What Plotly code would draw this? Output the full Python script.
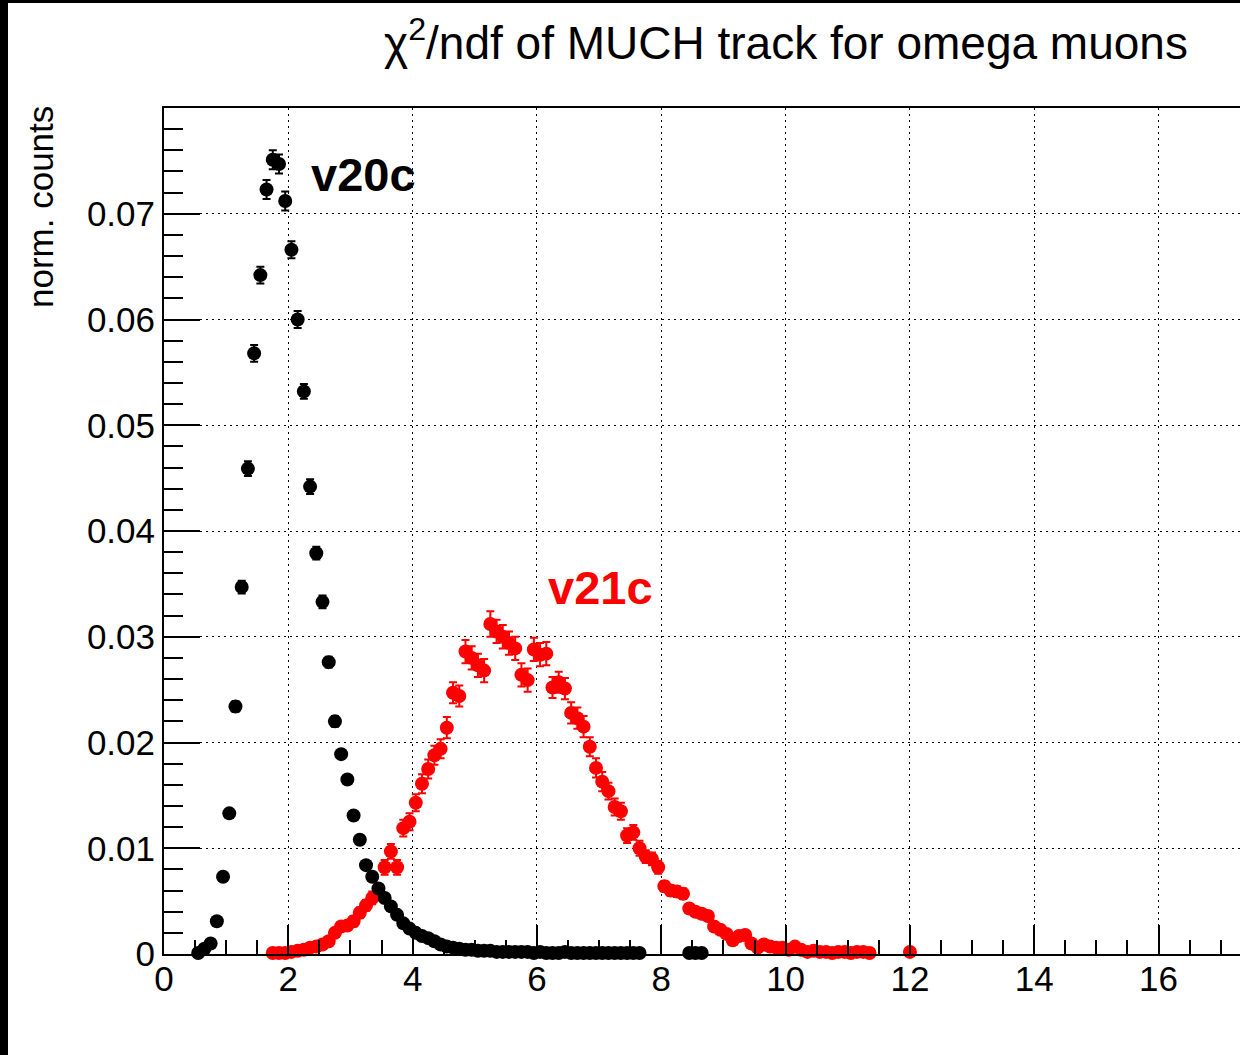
import plotly.graph_objects as go

# ---------------- data ----------------
v20c_x = [0.55, 0.65, 0.75, 0.85, 0.95, 1.05, 1.15, 1.25, 1.35, 1.45,
          1.55, 1.65, 1.75, 1.85, 1.95, 2.05, 2.15, 2.25, 2.35, 2.45,
          2.55, 2.65, 2.75, 2.85, 2.95, 3.05, 3.15, 3.25, 3.35, 3.45,
          3.55, 3.65, 3.75, 3.85, 3.95, 4.05, 4.15, 4.25, 4.35, 4.45,
          4.55, 4.65, 4.75, 4.85, 4.95, 5.05, 5.15, 5.25, 5.35, 5.45,
          5.55, 5.65, 5.75, 5.85, 5.95, 6.05, 6.15, 6.25, 6.35, 6.45,
          6.55, 6.65, 6.75, 6.85, 6.95, 7.05, 7.15, 7.25, 7.35, 7.45,
          7.55, 7.65, 8.45, 8.55, 8.65]
v20c_y = [0.0001, 0.0005, 0.0010, 0.0031, 0.0073, 0.0133, 0.0234, 0.0347, 0.0459, 0.0568,
          0.0642, 0.0723, 0.0751, 0.0747, 0.0712, 0.0666, 0.0600, 0.0532, 0.0442, 0.0379,
          0.0333, 0.0276, 0.0220, 0.0189, 0.0165, 0.0131, 0.0108, 0.0084, 0.0073, 0.0062,
          0.0053, 0.0045, 0.0037, 0.0029, 0.0024, 0.0020, 0.0017, 0.0015, 0.0012, 0.0009,
          0.0007, 0.0006, 0.0005, 0.0004, 0.0004, 0.0003, 0.0003, 0.0003, 0.0002, 0.0002,
          0.0002, 0.0002, 0.0002, 0.0002, 0.0001, 0.0002, 0.0001, 0.0001, 0.0001, 0.0002,
          0.0001, 0.0001, 0.0001, 0.0001, 0.0001, 0.0001, 0.0001, 0.0001, 0.0001, 0.0001,
          0.0001, 0.0001, 0.0001, 0.0001, 0.0001]
v20c_err = [0.0001, 0.0001, 0.0002, 0.0002, 0.0003, 0.0004, 0.0005, 0.0006, 0.0007, 0.0008,
            0.0008, 0.0009, 0.0009, 0.0009, 0.0009, 0.0008, 0.0008, 0.0007, 0.0007, 0.0006,
            0.0006, 0.0005, 0.0005, 0.0004, 0.0004, 0.0004, 0.0003, 0.0003, 0.0003, 0.0003,
            0.0002, 0.0002, 0.0002, 0.0002, 0.0002, 0.0002, 0.0001, 0.0001, 0.0001, 0.0001,
            0.0001, 0.0001, 0.0001, 0.0001, 0.0001, 0.0001, 0.0001, 0.0001, 0.0001, 0.0001,
            0.0001, 0.0001, 0.0001, 0.0001, 0.0001, 0.0001, 0.0001, 0.0001, 0.0001, 0.0001,
            0.0001, 0.0001, 0.0001, 0.0001, 0.0001, 0.0001, 0.0001, 0.0001, 0.0001, 0.0001,
            0.0001, 0.0001, 0.0001, 0.0001, 0.0001]

v21c_x = [1.75, 1.85, 1.95, 2.05, 2.15, 2.25, 2.35, 2.45, 2.55, 2.65,
          2.75, 2.85, 2.95, 3.05, 3.15, 3.25, 3.35, 3.45, 3.55, 3.65,
          3.75, 3.85, 3.95, 4.05, 4.15, 4.25, 4.35, 4.45, 4.55, 4.65,
          4.75, 4.85, 4.95, 5.05, 5.15, 5.25, 5.35, 5.45, 5.55, 5.65,
          5.75, 5.85, 5.95, 6.05, 6.15, 6.25, 6.35, 6.45, 6.55, 6.65,
          6.75, 6.85, 6.95, 7.05, 7.15, 7.25, 7.35, 7.45, 7.55, 7.65,
          7.75, 7.85, 7.95, 8.05, 8.15, 8.25, 8.35, 8.45, 8.55, 8.65,
          8.75, 8.85, 8.95, 9.05, 9.15, 9.25, 9.35, 9.45, 9.55, 9.65,
          9.75, 9.85, 9.95, 10.05, 10.15, 10.25, 10.35, 10.45, 10.55, 10.65,
          10.75, 10.85, 10.95, 11.05, 11.15, 11.25, 11.35, 12.0]
v21c_y = [0.0001, 0.0001, 0.0001, 0.0002, 0.0003, 0.0004, 0.0006, 0.0007, 0.0009, 0.0012,
          0.0020, 0.0026, 0.0027, 0.0031, 0.0039, 0.0046, 0.0053, 0.0058, 0.0082, 0.0097,
          0.0082, 0.0119, 0.0125, 0.0143, 0.0161, 0.0175, 0.0188, 0.0194, 0.0214, 0.0247,
          0.0244, 0.0286, 0.0280, 0.0273, 0.0268, 0.0312, 0.0305, 0.0300, 0.0294, 0.0289,
          0.0264, 0.0259, 0.0288, 0.0283, 0.0284, 0.0252, 0.0257, 0.0251, 0.0228, 0.0223,
          0.0215, 0.0196, 0.0176, 0.0163, 0.0154, 0.0139, 0.0135, 0.0112, 0.0115, 0.0100,
          0.0092, 0.0090, 0.0082, 0.0064, 0.0060, 0.0059, 0.0057, 0.0043, 0.0040, 0.0038,
          0.0036, 0.0026, 0.0023, 0.0019, 0.0013, 0.0017, 0.0018, 0.0010, 0.0006, 0.0009,
          0.0007, 0.0006, 0.0006, 0.0004, 0.0007, 0.0004, 0.0002, 0.0003, 0.0002, 0.0002,
          0.0001, 0.0002, 0.0002, 0.0001, 0.0002, 0.0002, 0.0001, 0.0002]
v21c_err = [0.0001, 0.0001, 0.0001, 0.0001, 0.0002, 0.0002, 0.0002, 0.0002, 0.0003, 0.0003,
            0.0004, 0.0004, 0.0004, 0.0005, 0.0005, 0.0005, 0.0006, 0.0006, 0.0007, 0.0007,
            0.0007, 0.0008, 0.0008, 0.0008, 0.0009, 0.0009, 0.0009, 0.0009, 0.0010, 0.0010,
            0.0010, 0.0011, 0.0011, 0.0011, 0.0011, 0.0012, 0.0011, 0.0011, 0.0011, 0.0011,
            0.0011, 0.0011, 0.0011, 0.0011, 0.0011, 0.0010, 0.0010, 0.0010, 0.0010, 0.0010,
            0.0010, 0.0009, 0.0009, 0.0009, 0.0008, 0.0008, 0.0008, 0.0007, 0.0007, 0.0007,
            0.0006, 0.0006, 0.0006, 0.0005, 0.0005, 0.0005, 0.0005, 0.0004, 0.0004, 0.0004,
            0.0004, 0.0003, 0.0003, 0.0003, 0.0002, 0.0002, 0.0003, 0.0002, 0.0002, 0.0002,
            0.0002, 0.0002, 0.0002, 0.0001, 0.0002, 0.0001, 0.0001, 0.0001, 0.0001, 0.0001,
            0.0001, 0.0001, 0.0001, 0.0001, 0.0001, 0.0001, 0.0001, 0.0001]

assert len(v20c_x) == len(v20c_y) == len(v20c_err)
assert len(v21c_x) == len(v21c_y) == len(v21c_err)

x_tickvals = [0, 2, 4, 6, 8, 10, 12, 14, 16]
y_tickvals = [0, 0.01, 0.02, 0.03, 0.04, 0.05, 0.06, 0.07]
y_ticktext = ["0", "0.01", "0.02", "0.03", "0.04", "0.05", "0.06", "0.07"]

title_text = "χ<sup>2</sup>/ndf of MUCH track for omega muons"
ytitle_text = "norm. counts"

FONT = "Liberation Sans, Arial, Helvetica, sans-serif"

# ---------------- figure ----------------
fig = go.Figure()

fig.add_trace(go.Scatter(
    x=v21c_x, y=v21c_y, mode="markers", name="v21c",
    marker=dict(color="#ff0000", size=14, symbol="circle"),
    error_y=dict(type="data", array=v21c_err, color="#ff0000", thickness=2, width=4),
    cliponaxis=False, showlegend=False,
))
fig.add_trace(go.Scatter(
    x=v20c_x, y=v20c_y, mode="markers", name="v20c",
    marker=dict(color="#000000", size=14, symbol="circle"),
    error_y=dict(type="data", array=v20c_err, color="#000000", thickness=2, width=4),
    cliponaxis=False, showlegend=False,
))

W, H = 1240, 1055
L, R, T, B = 164, 0, 108, 101
pw, ph = W - L - R, H - T - B

fig.update_layout(
    width=W, height=H,
    margin=dict(l=L, r=R, t=T, b=B, pad=0),
    paper_bgcolor="white", plot_bgcolor="white",
    font=dict(family=FONT, color="black"),
    showlegend=False,
)

fig.update_xaxes(
    range=[0, 17.31],
    tickmode="array", tickvals=x_tickvals,
    ticks="inside", ticklen=29, tickwidth=2, tickcolor="black",
    minor=dict(ticks="inside", ticklen=14, tickwidth=2, tickcolor="black",
               dtick=0.5, tick0=0, showgrid=False),
    showline=True, linewidth=2, linecolor="black", mirror=True,
    showgrid=True, gridcolor="black", gridwidth=1, griddash="2px,4px",
    zeroline=False,
    ticklabelstandoff=-7,
    tickfont=dict(size=35, family=FONT, color="black"),
)
fig.update_yaxes(
    range=[0, 0.08],
    tickmode="array", tickvals=y_tickvals, ticktext=y_ticktext,
    ticks="inside", ticklen=36, tickwidth=2, tickcolor="black",
    minor=dict(ticks="inside", ticklen=19, tickwidth=2, tickcolor="black",
               dtick=0.002, tick0=0, showgrid=False),
    showline=True, linewidth=2, linecolor="black", mirror=False,
    showgrid=True, gridcolor="black", gridwidth=1, griddash="2px,4px",
    zeroline=False,
    tickfont=dict(size=35, family=FONT, color="black"),
)

def px_x(p):
    return (p - L) / pw

def px_y(p):
    return (H - B - p) / ph

annotations = [
    dict(text=title_text, xref="paper", yref="paper",
         x=px_x(1190), y=px_y(40), xanchor="right", yanchor="middle",
         showarrow=False, font=dict(size=46, family=FONT, color="black")),
    dict(text=ytitle_text, xref="paper", yref="paper", textangle=-90,
         x=px_x(40), y=px_y(104), xanchor="center", yanchor="top",
         showarrow=False, font=dict(size=35, family=FONT, color="black")),
    dict(text="<b>v20c</b>", xref="x", yref="y", x=2.33, y=0.0737,
         xanchor="left", yanchor="middle", showarrow=False,
         font=dict(size=47, family=FONT, color="black")),
    dict(text="<b>v21c</b>", xref="x", yref="y", x=6.15, y=0.0347,
         xanchor="left", yanchor="middle", showarrow=False,
         font=dict(size=47, family=FONT, color="#ff0000")),
]
fig.update_layout(annotations=annotations)

# black frame strips at the left and top edge of the picture
fig.add_shape(type="rect", xref="paper", yref="paper",
              x0=px_x(-20), x1=px_x(8), y0=px_y(H + 20), y1=px_y(-20),
              fillcolor="black", line=dict(width=0), layer="above")
fig.add_shape(type="rect", xref="paper", yref="paper",
              x0=px_x(-20), x1=px_x(W + 20), y0=px_y(3), y1=px_y(-20),
              fillcolor="black", line=dict(width=0), layer="above")

fig.write_html("out.html")
